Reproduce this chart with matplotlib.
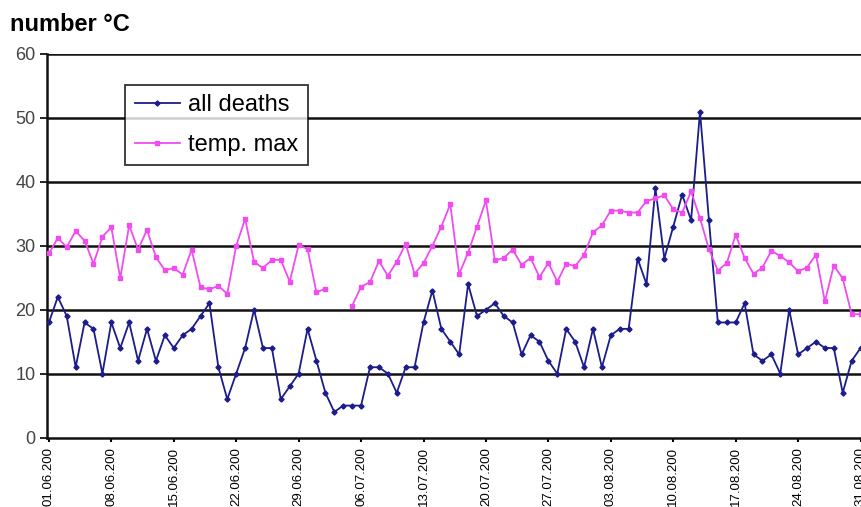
import numpy as np
import matplotlib
matplotlib.use("Agg")
import matplotlib.pyplot as plt

plt.rcParams['font.family'] = ['Liberation Sans', 'DejaVu Sans']

# daily values, 01.06 - 31.08
deaths = [18, 22, 19, 11, 18, 17, 10, 18, 14, 18,
          12, 17, 12, 16, 14, 16, 17, 19, 21, 11,
          6, 10, 14, 20, 14, 14, 6, 8, 10, 17,
          12, 7, 4, 5, 5, 5, 11, 11, 10, 7,
          11, 11, 18, 23, 17, 15, 13, 24, 19, 20,
          21, 19, 18, 13, 16, 15, 12, 10, 17, 15,
          11, 17, 11, 16, 17, 17, 28, 24, 39, 28,
          33, 38, 34, 51, 34, 18, 18, 18, 21, 13,
          12, 13, 10, 20, 13, 14, 15, 14, 14, 7,
          12, 14]

temp_max = [28.8, 31.2, 29.8, 32.3, 30.8, 27.2, 31.4, 32.9, 24.9, 33.2,
            29.4, 32.5, 28.2, 26.2, 26.5, 25.5, 29.4, 23.5, 23.2, 23.7,
            22.5, 30.0, 34.2, 27.5, 26.5, 27.8, 27.8, 24.4, 30.1, 29.5,
            22.7, 23.3, np.nan, np.nan, 20.6, 23.6, 24.3, 27.6, 25.3, 27.5,
            30.3, 25.6, 27.3, 30.0, 33.0, 36.5, 25.6, 28.9, 33.0, 37.1,
            27.7, 28.1, 29.4, 27.0, 28.1, 25.1, 27.3, 24.4, 27.2, 26.8,
            28.6, 32.1, 33.2, 35.5, 35.5, 35.2, 35.2, 37.0, 37.4, 37.9,
            35.7, 35.2, 38.5, 34.3, 29.5, 26.1, 27.3, 31.7, 28.1, 25.6,
            26.6, 29.2, 28.4, 27.4, 26.0, 26.6, 28.6, 21.3, 26.9, 24.9,
            19.3, 19.3]

tick_labels = ['01.06.200', '08.06.200', '15.06.200', '22.06.200', '29.06.200',
               '06.07.200', '13.07.200', '20.07.200', '27.07.200', '03.08.200',
               '10.08.200', '17.08.200', '24.08.200', '31.08.200']

days = np.arange(len(deaths))

fig = plt.figure(figsize=(8.61, 5.07), dpi=100)
ax = fig.add_axes([0.0542, 0.137, 0.9458, 0.7565])

ax.plot(days, deaths, color='#1c1c8a', lw=1.3, marker='D', ms=2.6,
        label='all deaths', zorder=3)
ax.plot(days, temp_max, color='#f04cf0', lw=1.3, marker='s', ms=2.6,
        label='temp. max', zorder=3)

ax.set_xlim(-0.25, 91.05)
ax.set_ylim(0, 60)
ax.set_yticks(np.arange(0, 61, 10))
for v in range(10, 61, 10):
    ax.axhline(v, color='#111111', lw=1.8, zorder=1)

ax.set_xticks(days[::7], labels=tick_labels, rotation=90, fontsize=9.5)
ax.tick_params(axis='x', length=3, width=1.5, pad=4)
ax.tick_params(axis='y', length=5, width=1.2, pad=3, labelsize=13,
               labelcolor='#444444')

for s in ['top', 'right']:
    ax.spines[s].set_visible(False)
for s in ['left', 'bottom']:
    ax.spines[s].set_linewidth(1.8)
    ax.spines[s].set_color('#111111')

leg = ax.legend(loc='upper left', bbox_to_anchor=(0.0965, 0.92), fontsize=17,
                frameon=True, fancybox=False, edgecolor='black',
                handlelength=1.9, borderpad=0.4, labelspacing=0.75,
                handletextpad=0.35, borderaxespad=0)
leg.get_frame().set_linewidth(1.3)

fig.text(0.0116, 0.939, 'number °C', fontsize=17, fontweight='bold',
         va='baseline', ha='left')

fig.savefig('out.png', dpi=100)
